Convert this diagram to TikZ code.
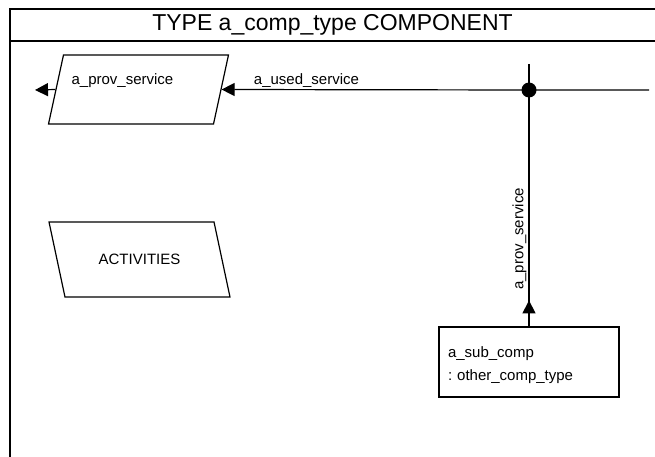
\documentclass[tikz,border=0pt]{standalone}
\usepackage{fontspec}
\setmainfont{Liberation Sans}
\usetikzlibrary{arrows.meta}

\begin{document}
\begin{tikzpicture}[x=1pt, y=-1pt, line width=1.2pt, >={Triangle[length=13pt,width=13pt]}]
\tikzstyle{lbl}=[font=\fontsize{15}{18}\selectfont, inner sep=2pt]
\tikzstyle{para}=[draw, transform shape, inner sep=0pt, minimum width=165pt]
\tikzstyle{frame}=[line width=1.5pt]
\useasboundingbox (0,0) rectangle (655,457);
% frame and title bar
\draw[frame] (655,9) -- (10,9) -- (10,457);
\draw[frame] (10,41) -- (655,41);
\node[font=\fontsize{23}{27}\selectfont] (title) at (332.5,25) {TYPE a\_comp\_type COMPONENT};
% interfaces
\node[para, xslant=0.217, minimum height=69pt] (prov) at (138.5,89.5) {};
\node[lbl, anchor=base west] (provname) at (69,85) {a\_prov\_service};
\node[para, xslant=-0.213, minimum height=75pt] (act) at (139.5,259.5) {};
\node[lbl] (actname) at (act) {ACTIVITIES};
% sub component
\node[draw, font=\fontsize{15}{23}\selectfont, inner sep=9pt, text width=162pt, minimum height=70pt, align=left] (sub) at (529,362) {\rule{0pt}{17pt}a\_sub\_comp\\:\ other\_comp\_type};
% connectors
\coordinate (junc) at (529,90);
\coordinate (vtop) at (529,64);
\coordinate (hright) at (649,90);
\coordinate (provtip) at (35,90);
\draw[->] (hright) -- (junc) -- node[lbl, above, pos=0.724] (usedlbl) {a\_used\_service} (prov.east);
\draw (vtop) -- (junc) -- node[lbl, rotate=90, anchor=south, pos=0.63] (provlbl) {a\_prov\_service} (sub.north);
\draw[->] (sub.north) -- ++(0,-26);
\draw[->] (prov.west) -- (provtip);
\fill (junc) circle (7.5);
\end{tikzpicture}
\end{document}
